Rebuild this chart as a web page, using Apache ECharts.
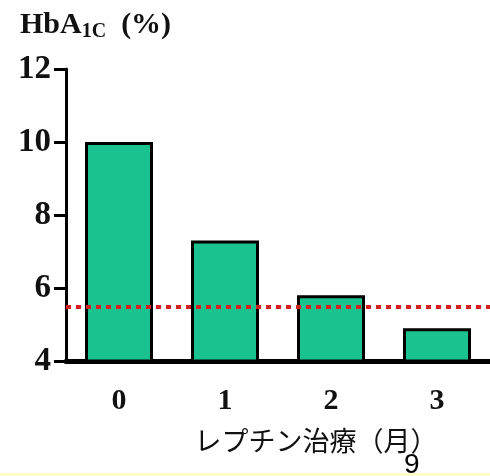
<!DOCTYPE html>
<html>
<head>
<meta charset="utf-8">
<script src="https://cdn.jsdelivr.net/npm/echarts@6/dist/echarts.min.js"></script>
<style>
  html, body { margin: 0; padding: 0; background: #ffffff; }
  #chart { width: 490px; height: 476px; }
</style>
</head>
<body>
<div id="chart"></div>
<script>
// Months of leptin therapy and HbA1c (%) at each point
const months = ['0', '1', '2', '3'];
const hba1c = [10.0, 7.3, 5.8, 4.9];
const referenceLevel = 5.5;
const yTicks = { min: 4, max: 12, interval: 2 };

const serif = '"Liberation Serif", "Times New Roman", serif';
const chart = echarts.init(document.getElementById('chart'), null, { renderer: 'canvas' });

chart.setOption({
  backgroundColor: '#ffffff',
  animation: false,
  title: {
    text: '{m|HbA}{s|1C}{m|  (%)}',
    left: 15,
    top: 3,
    textStyle: {
      rich: {
        m: { fontFamily: serif, fontWeight: 'bold', fontSize: 30, color: '#111' },
        s: { fontFamily: serif, fontWeight: 'bold', fontSize: 20, color: '#111', padding: [14, 0, 0, 0] }
      }
    }
  },
  grid: { left: 66, right: 0, top: 69, bottom: 115 },
  xAxis: {
    type: 'category',
    data: months,
    axisLine: { lineStyle: { color: '#000', width: 5 } },
    axisTick: { show: false },
    axisLabel: {
      margin: 25,
      fontFamily: serif,
      fontWeight: 'bold',
      fontSize: 30,
      color: '#111'
    },
    name: 'レプチン治療（月）',
    nameLocation: 'middle',
    nameGap: 66,
    nameTextStyle: {
      fontFamily: '"Noto Sans CJK JP", sans-serif',
      fontSize: 27,
      color: '#111',
      padding: [0, 0, 0, 76]
    }
  },
  yAxis: {
    type: 'value',
    min: yTicks.min,
    max: yTicks.max,
    interval: yTicks.interval,
    splitLine: { show: false },
    axisLine: { show: true, lineStyle: { color: '#000', width: 3 } },
    axisTick: { show: true, length: 12, lineStyle: { color: '#000', width: 3 } },
    axisLabel: {
      margin: 15,
      fontFamily: serif,
      fontWeight: 'bold',
      fontSize: 33,
      color: '#111'
    }
  },
  series: [{
    type: 'bar',
    data: hba1c,
    barWidth: 68,
    itemStyle: { color: '#19c28f', borderColor: '#000', borderWidth: 3 },
    markLine: {
      silent: true,
      symbol: 'none',
      label: { show: false },
      lineStyle: { color: '#d42020', width: 4, type: [5, 5] },
      data: [{ yAxis: referenceLevel }]
    },
    z: 2
  }],
  graphic: [
    {
      type: 'rect',
      left: 0,
      top: 473,
      shape: { width: 490, height: 3 },
      style: { fill: '#ffffc8' },
      z: 0
    },
    {
      type: 'text',
      left: 404,
      top: 451,
      style: {
        text: '9',
        font: '28px "Liberation Sans", Arial, sans-serif',
        fill: '#000'
      },
      z: 10
    }
  ]
});
</script>
</body>
</html>
